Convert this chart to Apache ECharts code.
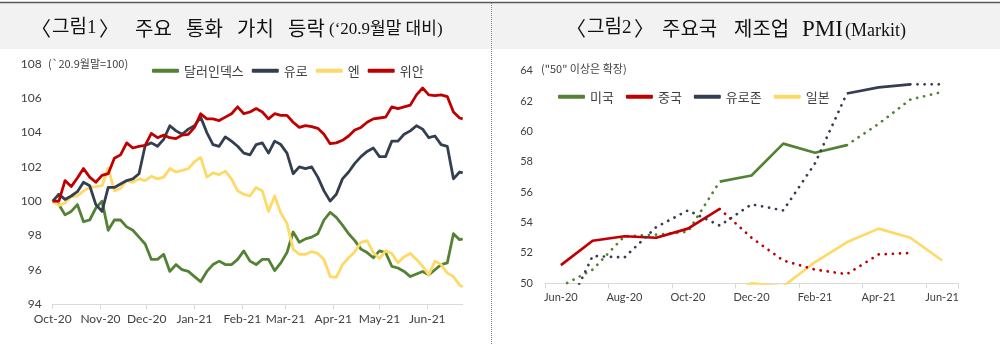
<!DOCTYPE html>
<html>
<head>
<meta charset="utf-8">
<script src="https://cdn.jsdelivr.net/npm/echarts@6/dist/echarts.min.js"></script>
<style>
html,body{margin:0;padding:0;background:#fff;}
#c{width:1000px;height:344px;}
</style>
</head>
<body>
<div id="c"></div>
<script>
// ---------- Figure 1: currency values (end-Sep 2020 = 100) ----------
const dates = ['2020-10-01','2020-10-05','2020-10-09','2020-10-13','2020-10-17','2020-10-21','2020-10-25','2020-10-29',
'2020-11-02','2020-11-06','2020-11-10','2020-11-14','2020-11-18','2020-11-22','2020-11-26','2020-11-30',
'2020-12-04','2020-12-08','2020-12-12','2020-12-16','2020-12-20','2020-12-24','2020-12-28',
'2021-01-01','2021-01-05','2021-01-09','2021-01-13','2021-01-17','2021-01-21','2021-01-25','2021-01-29',
'2021-02-02','2021-02-06','2021-02-10','2021-02-14','2021-02-18','2021-02-22','2021-02-26',
'2021-03-02','2021-03-06','2021-03-10','2021-03-14','2021-03-18','2021-03-22','2021-03-26','2021-03-30',
'2021-04-03','2021-04-07','2021-04-11','2021-04-15','2021-04-19','2021-04-23','2021-04-27',
'2021-05-01','2021-05-05','2021-05-09','2021-05-13','2021-05-17','2021-05-21','2021-05-25','2021-05-29',
'2021-06-02','2021-06-06','2021-06-10','2021-06-14','2021-06-18','2021-06-22','2021-06-24'];

const dollarIndex = [100.0,99.8,99.2,99.4,99.8,98.8,98.9,99.6,
100.0,98.3,98.9,98.9,98.5,98.3,97.9,97.5,
96.6,96.6,96.9,95.9,96.3,96.0,95.9,
95.6,95.3,95.9,96.3,96.5,96.3,96.3,96.6,
97.1,96.5,96.3,96.6,96.6,95.95,96.4,
97.0,98.2,97.6,97.8,97.9,98.1,98.9,99.35,
99.05,98.6,98.1,97.7,97.2,97.0,96.7,
97.1,97.0,96.2,96.1,95.9,95.6,95.75,95.9,
95.7,96.0,96.3,96.4,98.1,97.75,97.8];

const euro = [100.0,100.4,100.1,100.3,100.55,101.1,100.9,99.8,
99.4,100.8,100.8,101.0,101.2,101.3,101.6,103.25,
103.4,103.2,103.6,104.4,104.1,103.9,104.2,
104.4,104.9,104.0,103.3,103.2,103.75,103.5,103.2,
102.8,102.7,103.3,103.4,102.8,103.5,103.3,
102.8,101.6,102.0,101.9,102.0,101.4,100.6,100.0,
100.4,101.3,101.7,102.2,102.6,102.9,103.1,
102.6,102.6,103.5,103.5,103.9,104.1,104.4,104.2,
103.7,103.8,103.3,103.2,101.3,101.7,101.65];

const yen = [100.0,99.75,99.9,100.25,100.3,100.6,100.8,100.85,
100.9,101.95,100.6,100.75,101.2,101.1,101.3,101.2,
101.45,101.3,101.4,101.9,101.7,101.8,101.9,
102.3,102.55,101.4,101.65,101.55,101.75,101.3,100.6,
100.4,100.3,100.8,100.6,99.4,100.3,99.3,
98.7,97.2,96.9,96.9,97.05,96.95,96.6,95.6,
95.55,96.3,96.7,97.05,97.6,97.7,97.0,
96.65,97.1,96.95,96.4,96.75,96.95,96.6,96.2,
95.7,96.5,96.3,95.8,95.6,95.1,95.0];

const yuan = [100.0,100.0,101.2,100.85,101.35,101.9,101.4,101.1,
101.5,101.6,102.5,102.7,103.4,103.1,103.2,103.25,
103.95,103.7,103.85,103.7,103.65,103.85,103.9,
104.3,105.1,104.8,104.8,104.7,104.9,105.1,105.5,
105.1,105.2,105.4,105.2,104.8,105.1,105.0,
105.0,104.6,104.3,104.4,104.35,104.25,103.9,103.35,
103.4,103.55,103.8,104.15,104.3,104.6,104.8,
104.85,104.9,105.5,105.4,105.5,105.6,106.2,106.6,
106.2,106.15,106.2,106.1,105.2,104.85,104.8];

const fig1TickDates = ['2020-10-01','2020-11-01','2020-12-01','2021-01-01','2021-02-01','2021-03-01','2021-04-01','2021-05-01','2021-06-01'];
const fig1TickLabels = ['Oct-20','Nov-20','Dec-20','Jan-21','Feb-21','Mar-21','Apr-21','May-21','Jun-21'];
const fig1End = '2021-06-24';

// ---------- Figure 2: manufacturing PMI (Markit) ----------
const months = ['Jun-20','Jul-20','Aug-20','Sep-20','Oct-20','Nov-20','Dec-20','Jan-21','Feb-21','Mar-21','Apr-21','May-21','Jun-21'];
const pmiUS    = [49.8,50.9,53.1,53.2,53.4,56.7,57.1,59.2,58.6,59.1,60.5,62.1,62.6];
const pmiChina = [51.2,52.8,53.1,53.0,53.6,54.9,53.0,51.5,50.9,50.6,51.9,52.0,null];
const pmiEuro  = [47.4,51.8,51.7,53.7,54.8,53.8,55.2,54.8,57.9,62.5,62.9,63.1,63.1];
const pmiJapan = [40.1,45.2,47.2,47.7,48.7,49.0,50.0,49.8,51.4,52.7,53.6,53.0,51.5];

// solid / dotted month-index ranges (line styling)
const usSolid = [[5,9]],   usDotted = [[0,5],[9,12]];
const cnSolid = [[0,5]],   cnDotted = [[5,11]];
const euSolid = [[9,11]],  euDotted = [[0,9],[11,12]];
const jpSolid = [[0,12]];

const C_GREEN = '#548235', C_NAVY = '#333f50', C_YELLOW = '#ffd966', C_RED = '#c00000';
const TXT = '#404040';
const KR = '"Noto Sans CJK KR", "Noto Sans", sans-serif';
const NUM = 'Lato, "Noto Sans", sans-serif';
const SERIF_KR = '"Liberation Serif", "Noto Sans CJK KR", serif';

function ts(s){ const p = s.split('-').map(Number); return Date.UTC(p[0], p[1]-1, p[2]); }
const tickTs = fig1TickDates.map(ts);

function pick(values, ranges){
  return values.map((v,i)=> ranges.some(r => i>=r[0] && i<=r[1]) ? v : null);
}

function fig1Series(name, vals, color, z){
  return {name, type:'line', xAxisIndex:0, yAxisIndex:0, data: dates.map((d,i)=>[ts(d), vals[i]]),
    showSymbol:false, symbol:'none', color, lineStyle:{width:2.8, color, join:'round'}, z, animation:false};
}
function fig2Series(name, vals, color, dotted){
  return {name, type:'line', xAxisIndex:1, yAxisIndex:1, data: vals, showSymbol:false, symbol:'none',
    color, connectNulls:false, animation:false,
    lineStyle: dotted ? {width:2.7, color, type:[0.1,7], cap:'round'} : {width:2.7, color, join:'round'}};
}

const series = [
  fig1Series('달러인덱스', dollarIndex, C_GREEN, 2),
  fig1Series('엔', yen, C_YELLOW, 3),
  fig1Series('유로', euro, C_NAVY, 4),
  fig1Series('위안', yuan, C_RED, 5),
  fig2Series('일본', pick(pmiJapan, jpSolid), C_YELLOW, false),
  fig2Series('미국', pick(pmiUS, usSolid), C_GREEN, false),
  fig2Series('미국 ', pick(pmiUS, usDotted), C_GREEN, true),
  fig2Series('중국', pick(pmiChina, cnSolid), C_RED, false),
  fig2Series('중국 ', pick(pmiChina, cnDotted), C_RED, true),
  fig2Series('유로존', pick(pmiEuro, euSolid), C_NAVY, false),
  fig2Series('유로존 ', pick(pmiEuro, euDotted), C_NAVY, true)
];

const legendCommon = {icon:'roundRect', itemWidth:27, itemHeight:4, itemGap:8, padding:0,
  textStyle:{fontSize:13, color:TXT, fontFamily:KR, lineHeight:16}};

function t(x, y, text, font, fill){
  return {type:'text', left:x, top:y, style:{text, font, fill: fill || '#111'}, silent:true};
}

const option = {
  animation:false,
  backgroundColor:'#ffffff',
  grid:[
    {left:52.7, top:64, width:410, height:240},
    {left:545, top:70.7, width:413, height:212.6}
  ],
  legend:[
    Object.assign({}, legendCommon, {data:['달러인덱스','유로','엔','위안'], left:152, top:62.7}),
    Object.assign({}, legendCommon, {data:['미국','중국','유로존','일본'], left:558, top:88.7, itemGap:12})
  ],
  xAxis:[
    {type:'value', gridIndex:0, min:ts('2020-10-01'), max:ts(fig1End),
      axisLine:{show:true, lineStyle:{color:'#d9d9d9', width:1}},
      axisTick:{show:true, length:5, lineStyle:{color:'#d9d9d9'}, customValues:tickTs},
      axisLabel:{customValues:tickTs, color:TXT, fontSize:12, fontFamily:NUM, margin:9,
        formatter:(v)=>{ const i = tickTs.indexOf(v); return i>=0 ? fig1TickLabels[i] : ''; }},
      splitLine:{show:false}},
    {type:'category', gridIndex:1, data:months, boundaryGap:true,
      axisLine:{show:true, lineStyle:{color:'#d9d9d9', width:1}},
      axisTick:{show:true, interval:1, alignWithLabel:false, length:5, lineStyle:{color:'#d9d9d9'}},
      axisLabel:{interval:1, color:TXT, fontSize:11, fontFamily:NUM, margin:9},
      splitLine:{show:false}}
  ],
  yAxis:[
    {type:'value', gridIndex:0, min:94, max:108, interval:2,
      axisLine:{show:false}, axisTick:{show:false}, splitLine:{show:false},
      axisLabel:{color:TXT, fontSize:12, fontFamily:NUM, margin:11}},
    {type:'value', gridIndex:1, min:50, max:64, interval:2,
      axisLine:{show:false}, axisTick:{show:false}, splitLine:{show:false},
      axisLabel:{color:TXT, fontSize:11, fontFamily:NUM, margin:12}}
  ],
  graphic:[
    {type:'rect', shape:{x:0, y:3, width:491, height:46}, style:{fill:'#f2f2f2'}, z:-10, silent:true},
    {type:'rect', shape:{x:492, y:3, width:508, height:46}, style:{fill:'#f2f2f2'}, z:-10, silent:true},
    {type:'line', shape:{x1:0, y1:2.5, x2:1000, y2:2.5}, style:{stroke:'#595959', lineWidth:1.5}, silent:true},
    {type:'line', shape:{x1:491.5, y1:3, x2:491.5, y2:344}, style:{stroke:'#7f7f7f', lineWidth:1, lineDash:[1,1]}, silent:true},
    // title 1
    t(31, 18, '〈', '20px '+KR),
    t(52, 19, '그림1', '19px '+SERIF_KR),
    t(99, 18, '〉', '20px '+KR),
    t(135, 18, '주요', '20px '+KR),
    t(186, 18, '통화', '20px '+KR),
    t(237, 18, '가치', '20px '+KR),
    t(288, 18, '등락', '20px '+KR),
    t(329, 21, '(‘20.9월말 대비)', '17px '+SERIF_KR),
    // title 2
    t(566, 18, '〈', '20px '+KR),
    t(587, 19, '그림2', '19px '+SERIF_KR),
    t(634, 18, '〉', '20px '+KR),
    t(662, 18, '주요국', '20px '+KR),
    t(734, 18, '제조업', '20px '+KR),
    t(802, 18, 'PMI', '23px "Liberation Serif", serif'),
    t(845, 22, '(Markit)', '18px "Liberation Serif", serif'),
    // axis notes
    t(48, 58, '(`20.9월말=100)', '11px '+KR, TXT),
    t(541, 63, '("50" 이상은 확장)', '11px '+KR, TXT)
  ],
  series
};

const chart = echarts.init(document.getElementById('c'), null, {renderer:'canvas', width:1000, height:344});
chart.setOption(option);
</script>
</body>
</html>
